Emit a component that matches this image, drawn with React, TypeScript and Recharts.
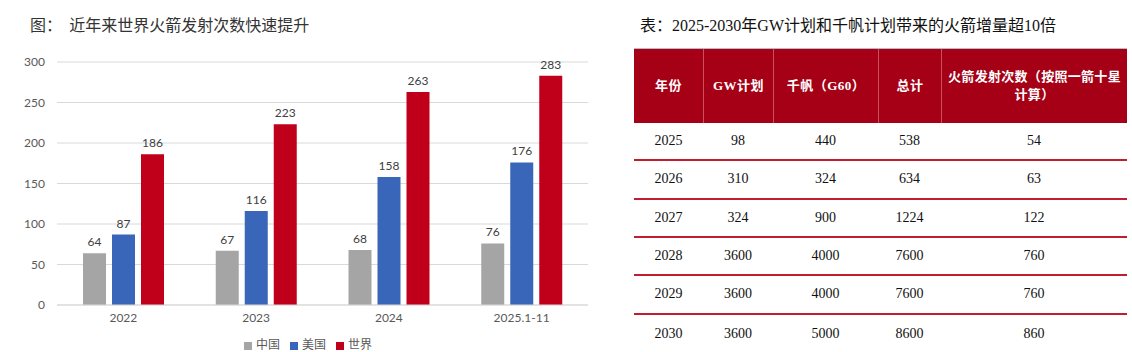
import {
  BarChart,
  Bar,
  XAxis,
  YAxis,
  CartesianGrid,
  Legend,
  LabelList,
} from "recharts";

// chart data
const categories = ["2022", "2023", "2024", "2025.1-11"];
const seriesNames = ["中国", "美国", "世界"];
const chinaLaunches = [64, 67, 68, 76];
const usaLaunches = [87, 116, 158, 176];
const worldLaunches = [186, 223, 263, 283];
const yTicks = [0, 50, 100, 150, 200, 250, 300];

// table data
const tableHeaders = ["年份", "GW计划", "千帆（G60）", "总计", "火箭发射次数（按照一箭十星计算）"];
const tableYears = ["2025", "2026", "2027", "2028", "2029", "2030"];
const gwPlan = [98, 310, 324, 3600, 3600, 3600];
const qianfanPlan = [440, 324, 900, 4000, 4000, 5000];
const planTotals = [538, 634, 1224, 7600, 7600, 8600];
const rocketLaunches = [54, 63, 122, 760, 760, 860];

const colWidths = [69, 70, 105, 63, 186];

const sansFont = "Lato, 'Noto Sans CJK SC', sans-serif";
const serifFont = "'Liberation Serif', 'Times New Roman', 'Noto Sans CJK SC', serif";

export default function App() {
  const chartData = categories.map((cat, i) => ({
    name: cat,
    中国: chinaLaunches[i],
    美国: usaLaunches[i],
    世界: worldLaunches[i],
  }));

  const rows = tableYears.map((y, i) => [
    y,
    String(gwPlan[i]),
    String(qianfanPlan[i]),
    String(planTotals[i]),
    String(rocketLaunches[i]),
  ]);

  const rowH = 38.33;

  return (
    <div
      style={{
        position: "absolute",
        left: 0,
        top: 0,
        width: 1132,
        height: 352,
        background: "#fff",
        overflow: "hidden",
      }}
    >
      <div
        style={{
          position: "absolute",
          left: 30,
          top: 12,
          fontSize: 16,
          color: "#333",
          fontFamily: "'Noto Sans CJK SC', sans-serif",
          whiteSpace: "pre",
        }}
      >
        {"图：  近年来世界火箭发射次数快速提升"}
      </div>

      <div style={{ position: "absolute", left: 0, top: 0 }}>
        <BarChart
          width={620}
          height={352}
          data={chartData}
          margin={{ top: 62, right: 32, left: 12, bottom: 0 }}
          barGap={6}
          barSize={23}
          style={{ fontFamily: sansFont }}
        >
          <CartesianGrid vertical={false} stroke="#d9d9d9" />
          <XAxis
            dataKey="name"
            axisLine={{ stroke: "#d9d9d9" }}
            tickLine={false}
            tick={{ fill: "#595959", fontSize: 12 }}
            tickMargin={2}
            height={30}
          />
          <YAxis
            domain={[0, 300]}
            ticks={yTicks}
            axisLine={false}
            tickLine={false}
            tick={{ fill: "#595959", fontSize: 12 }}
            tickMargin={6}
            width={45}
          />
          <Legend
            iconType="square"
            iconSize={8}
            itemSorter={(item: any) => seriesNames.indexOf(String(item.value))}
            wrapperStyle={{ fontSize: 12, color: "#595959", left: 25 }}
            formatter={(v) => <span style={{ color: "#595959" }}>{v}</span>}
          />
          <Bar dataKey="中国" fill="#a5a5a5" isAnimationActive={false}>
            <LabelList dataKey="中国" position="top" offset={7} fill="#404040" fontSize={12} />
          </Bar>
          <Bar dataKey="美国" fill="#3a66b9" isAnimationActive={false}>
            <LabelList dataKey="美国" position="top" offset={7} fill="#404040" fontSize={12} />
          </Bar>
          <Bar dataKey="世界" fill="#c0001a" isAnimationActive={false}>
            <LabelList dataKey="世界" position="top" offset={7} fill="#404040" fontSize={12} />
          </Bar>
        </BarChart>
      </div>

      <div
        style={{
          position: "absolute",
          left: 640,
          top: 12,
          fontSize: 16,
          color: "#111",
          fontFamily: serifFont,
          whiteSpace: "nowrap",
        }}
      >
        表：2025-2030年GW计划和千帆计划带来的火箭增量超10倍
      </div>

      <div style={{ position: "absolute", left: 634, top: 48, width: 493 }}>
        <div
          style={{
            display: "flex",
            height: 74,
            background: "#a50015",
            borderTop: "1px solid #b9b9c8",
          }}
        >
          {tableHeaders.map((h, i) => (
            <div
              key={h}
              style={{
                width: colWidths[i],
                boxSizing: "border-box",
                borderLeft: i > 0 ? "1px solid #c9505c" : "none",
                display: "flex",
                alignItems: "center",
                justifyContent: "center",
                textAlign: "center",
                color: "#fff",
                fontWeight: "bold",
                fontSize: 13,
                lineHeight: "18px",
                letterSpacing: i === 4 ? 0.3 : 0.5,
                padding: 0,
                fontFamily: serifFont,
              }}
            >
              {h}
            </div>
          ))}
        </div>
        {rows.map((r, ri) => (
          <div
            key={ri}
            style={{
              display: "flex",
              height: rowH,
              boxSizing: "border-box",
              borderBottom: ri < rows.length - 1 ? "2px solid #c21d2e" : "none",
            }}
          >
            {r.map((c, ci) => (
              <div
                key={ci}
                style={{
                  width: colWidths[ci],
                  display: "flex",
                  alignItems: "center",
                  justifyContent: "center",
                  fontSize: 14,
                  color: "#111",
                  fontFamily: serifFont,
                }}
              >
                {c}
              </div>
            ))}
          </div>
        ))}
      </div>
    </div>
  );
}
